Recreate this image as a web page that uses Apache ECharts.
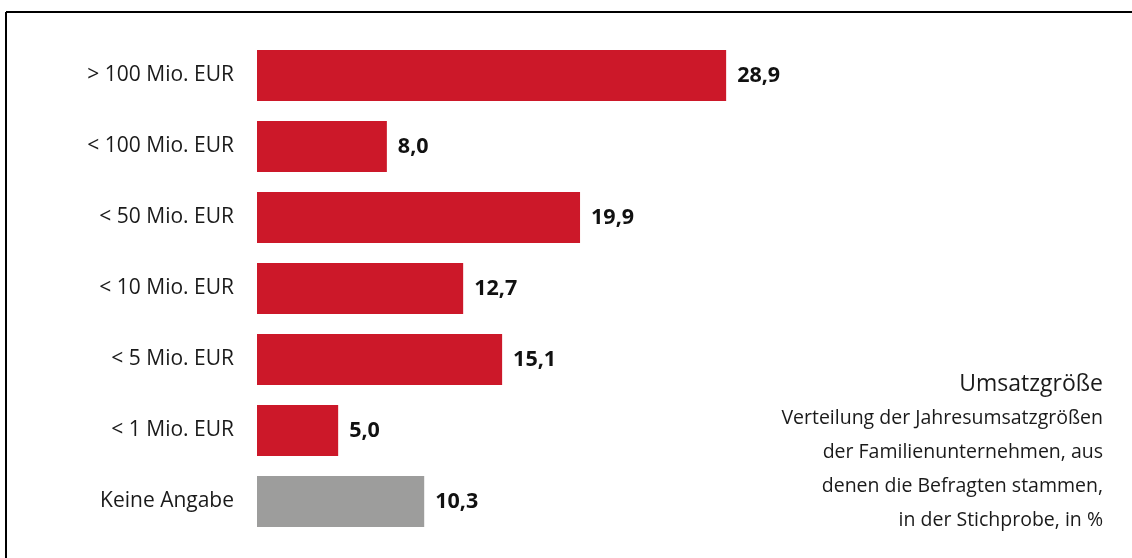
<!DOCTYPE html>
<html><head><meta charset="utf-8">
<script src="https://cdn.jsdelivr.net/npm/echarts@6/dist/echarts.min.js"></script>
<style>html,body{margin:0;padding:0;background:#fff}#c{width:1132px;height:558px}</style>
</head><body><div id="c"></div>
<script>
const categories = ['> 100 Mio. EUR','< 100 Mio. EUR','< 50 Mio. EUR','< 10 Mio. EUR','< 5 Mio. EUR','< 1 Mio. EUR','Keine Angabe'];
const values = [28.9, 8.0, 19.9, 12.7, 15.1, 5.0, 10.3];
const barColors = ['#cc1829','#cc1829','#cc1829','#cc1829','#cc1829','#cc1829','#9d9d9c'];
const titleText = 'Umsatzgröße';
const subLines = ['Verteilung der Jahresumsatzgrößen','der Familienunternehmen, aus','denen die Befragten stammen,','in der Stichprobe, in %'];
const FONT = '"Open Sans", sans-serif';
const chart = echarts.init(document.getElementById('c'));
const graphics = [
  {type:'line', shape:{x1:6,y1:12,x2:1132,y2:12}, style:{stroke:'#000',lineWidth:2}},
  {type:'line', shape:{x1:6,y1:12,x2:6,y2:558}, style:{stroke:'#000',lineWidth:2}},
  {type:'text', right:29, top:373, style:{text:titleText, fill:'#1a1a1a', font:'23px '+FONT, textAlign:'right'}}
];
subLines.forEach((t,i)=>{
  graphics.push({type:'text', right:29, top:408+i*34, style:{text:t, fill:'#1a1a1a', font:'19.5px '+FONT, textAlign:'right'}});
});
chart.setOption({
  animation:false,
  grid:{left:257, width:487, top:40, height:497},
  xAxis:{type:'value', min:0, max:30, show:false},
  yAxis:{type:'category', inverse:true, data:categories,
    axisLine:{show:false}, axisTick:{show:false},
    axisLabel:{color:'#1a1a1a', fontSize:21, fontFamily:FONT, margin:23, padding:[5,0,0,0]}},
  series:[{type:'bar', barWidth:51,
    data: values.map((v,i)=>({value:v, itemStyle:{color:barColors[i]}})),
    label:{show:true, position:'right', distance:11, fontSize:21.5, fontWeight:'bold', color:'#111', fontFamily:FONT, padding:[2,0,0,0],
      formatter:p=>p.value.toFixed(1).replace('.',',')}}],
  graphic:graphics
});
</script></body></html>
